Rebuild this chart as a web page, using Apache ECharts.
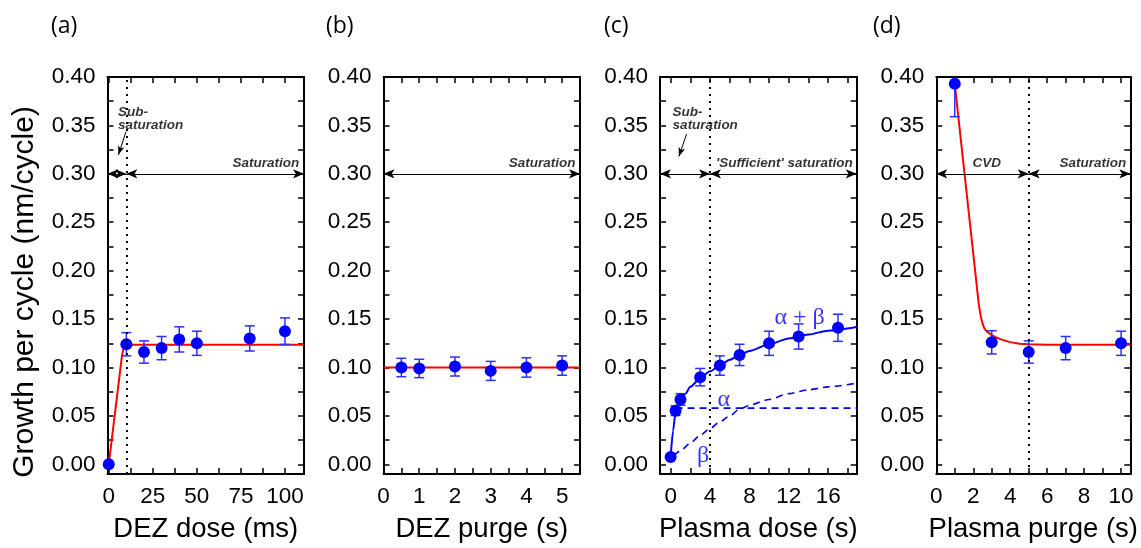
<!DOCTYPE html>
<html><head><meta charset="utf-8">
<script src="https://cdn.jsdelivr.net/npm/echarts@6/dist/echarts.min.js"></script>
<style>html,body{margin:0;padding:0;background:#fff}#c{width:1141px;height:548px}</style>
</head><body><div id="c"></div>
<script>
// ---------- DATA ----------
// shared y axis
const yTicks = [0,0.025,0.05,0.075,0.1,0.125,0.15,0.175,0.2,0.225,0.25,0.275,0.3,0.325,0.35,0.375,0.4];
const yLabels = [0,0.05,0.1,0.15,0.2,0.25,0.3,0.35,0.4];
const yTitle = 'Growth per cycle (nm/cycle)';
const panelLabels = ['(a)','(b)','(c)','(d)'];

// Panel (a) DEZ dose
const aDose = [0,10,20,30,40,50,80,100];
const aGpc  = [0.000,0.124,0.116,0.120,0.129,0.125,0.130,0.1375];
const aErr  = [0,0.012,0.0115,0.012,0.013,0.0125,0.013,0.0137];
const aFitX = [0,7.5,8.5,9.5,11,111];
const aFitY = [0,0.112,0.1205,0.123,0.1235,0.1235];
const aXTicks = [0,12.5,25,37.5,50,62.5,75,87.5,100];
const aXLabels = [0,25,50,75,100];
const aXTitle = 'DEZ dose (ms)';

// Panel (b) DEZ purge
const bPurge = [0.5,1,2,3,4,5];
const bGpc   = [0.100,0.099,0.101,0.0965,0.100,0.102];
const bErr   = [0.0095,0.0095,0.0098,0.0098,0.010,0.010];
const bFitX  = [0,5.5];
const bFitY  = [0.100,0.100];
const bXTicks = [0,0.5,1,1.5,2,2.5,3,3.5,4,4.5,5,5.5];
const bXLabels = [0,1,2,3,4,5];
const bXTitle = 'DEZ purge (s)';

// Panel (c) Plasma dose
const cDose = [0,0.5,1,3,5,7,10,13,17];
const cGpc  = [0.0075,0.0554,0.067,0.090,0.102,0.113,0.125,0.132,0.141];
const cErr  = [0,0.005,0.006,0.009,0.010,0.011,0.0125,0.013,0.014];
const cSumX = [0,0.25,0.5,0.75,1,1.5,2,3,4,5,6,7,8,10,12,14,16,19];
const cSumY = [0.007,0.035,0.054,0.062,0.067,0.073,0.080,0.089,0.096,0.102,0.108,0.113,0.117,0.124,0.130,0.134,0.138,0.142];
const cAlphaX = [0.5,19];
const cAlphaY = [0.058,0.058];
const cBetaX = [0.3,1,2,3,4,5,6,7,8,10,12,14,16,19];
const cBetaY = [0.009,0.014,0.022,0.030,0.037,0.044,0.050,0.057,0.061,0.067,0.073,0.077,0.080,0.084];
const cXTicks = [0,2,4,6,8,10,12,14,16,18];
const cXLabels = [0,4,8,12,16];
const cXTitle = 'Plasma dose (s)';

// Panel (d) Plasma purge
const dPurge = [1,3,5,7,10];
const dGpc   = [0.393,0.126,0.116,0.120,0.125];
const dErr   = [0.034,0.012,0.0115,0.012,0.0125];
const dFitX  = [1,1.5,2,2.3,2.4,2.5,2.6,2.7,2.8,3.0,3.25,3.5,4,4.5,5,6,10.5];
const dFitY  = [0.393,0.305,0.2175,0.165,0.1535,0.1455,0.1405,0.1378,0.1362,0.1333,0.131,0.129,0.1262,0.1246,0.1239,0.1236,0.1235];
const dXTicks = [0,1,2,3,4,5,6,7,8,9,10];
const dXLabels = [0,2,4,6,8,10];
const dXTitle = 'Plasma purge (s)';

// annotation texts
const txtSub = 'Sub-\nsaturation';
const txtSat = 'Saturation';
const txtSuff = "'Sufficient' saturation";
const txtCVD = 'CVD';
const txtAB = 'α + β';
const txtA = 'α';
const txtB = 'β';

// ---------- CHART ----------
const FONT = '"Liberation Sans", Arial, Helvetica, sans-serif';
const BLUE = '#0000ff';
const EBLUE = '#2e2eff';
const RED = '#ff0000';
const Y_MIN = -0.01, Y_MAX = 0.40;
const ARROW_Y = 0.30;

const zip = (xs, ys) => xs.map((x, k) => [x, ys[k]]);
const zip3 = (xs, ys, es) => xs.map((x, k) => [x, ys[k], es[k]]);

function errRender(params, api) {
  const x = api.value(0), y = api.value(1), e = api.value(2);
  if (!e) return null;
  const p1 = api.coord([x, y + e]), p2 = api.coord([x, y - e]);
  const w = 5;
  const style = { stroke: EBLUE, lineWidth: 1.5 };
  return { type: 'group', children: [
    { type: 'line', shape: { x1: p1[0], y1: p1[1], x2: p2[0], y2: p2[1] }, style },
    { type: 'line', shape: { x1: p1[0] - w, y1: p1[1], x2: p1[0] + w, y2: p1[1] }, style },
    { type: 'line', shape: { x1: p2[0] - w, y1: p2[1], x2: p2[0] + w, y2: p2[1] }, style }
  ]};
}

const panels = [
  { left: 107.5, width: 196.5, xMin: -0.7, xMax: 110.8, xTicks: aXTicks, xLabels: aXLabels, xTitle: aXTitle,
    pts: zip3(aDose, aGpc, aErr), fits: [{ d: zip(aFitX, aFitY), c: RED, smooth: false }],
    vline: 10, arrows: [[-0.7, 10], [10, 110.8]], pointer: [[9.8, 0.3436], [5.5, 0.3196]],
    texts: [
      { v: [5.0, 0.357], t: txtSub, pos: 'right' },
      { v: [89.2, 0.3114], t: txtSat, pos: 'inside' }
    ], labelX: 51 },
  { left: 383.5, width: 196.5, xMin: 0, xMax: 5.5, xTicks: bXTicks, xLabels: bXLabels, xTitle: bXTitle,
    pts: zip3(bPurge, bGpc, bErr), fits: [{ d: zip(bFitX, bFitY), c: RED, smooth: false }],
    vline: null, arrows: [[0, 5.5]], pointer: null,
    texts: [ { v: [4.44, 0.3114], t: txtSat, pos: 'inside' } ], labelX: 326 },
  { left: 660, width: 196.7, xMin: -1.08, xMax: 18.9, xTicks: cXTicks, xLabels: cXLabels, xTitle: cXTitle,
    pts: zip3(cDose, cGpc, cErr),
    fits: [
      { d: zip(cSumX, cSumY), c: BLUE, smooth: true },
      { d: zip(cAlphaX, cAlphaY), c: BLUE, smooth: false, dash: [7, 5] },
      { d: zip(cBetaX, cBetaY), c: BLUE, smooth: true, dash: [7, 5] }
    ],
    vline: 4, arrows: [[-1.08, 4], [4, 18.9]], pointer: [[1.62, 0.341], [0.84, 0.318]],
    texts: [
      { v: [0.15, 0.357], t: txtSub, pos: 'right' },
      { v: [11.55, 0.3114], t: txtSuff, pos: 'inside' },
      { v: [13.1, 0.151], t: txtAB, pos: 'inside', greek: true },
      { v: [5.4, 0.0663], t: txtA, pos: 'inside', greek: true },
      { v: [3.3, 0.0085], t: txtB, pos: 'inside', greek: true }
    ], labelX: 604 },
  { left: 936.3, width: 196.4, xMin: 0, xMax: 10.5, xTicks: dXTicks, xLabels: dXLabels, xTitle: dXTitle,
    pts: zip3(dPurge, dGpc, dErr), fits: [{ d: zip(dFitX, dFitY), c: RED, smooth: false }],
    vline: 5, arrows: [[0, 5], [5, 10.5]], pointer: null,
    texts: [
      { v: [2.73, 0.3114], t: txtCVD, pos: 'inside' },
      { v: [8.47, 0.3114], t: txtSat, pos: 'inside' }
    ], labelX: 873 }
];

const grid = [], xAxis = [], yAxis = [], series = [], graphic = [];
const TOP = 77, HEIGHT = 402;
const axLine = { show: true, onZero: false, lineStyle: { color: '#000', width: 2 } };
const tickStyle = { color: '#000', width: 1.5 };

panels.forEach((p, i) => {
  grid.push({ left: p.left, top: TOP, width: p.width, height: HEIGHT });
  xAxis.push({
    gridIndex: i, type: 'value', min: p.xMin, max: p.xMax, position: 'bottom',
    axisLine: axLine,
    axisTick: { show: true, inside: true, length: 6, customValues: p.xTicks, lineStyle: tickStyle },
    axisLabel: { customValues: p.xLabels, margin: 11, fontSize: 22.5, color: '#000', fontFamily: FONT },
    splitLine: { show: false },
    name: p.xTitle, nameLocation: 'middle', nameGap: 41,
    nameTextStyle: { fontSize: 27.5, color: '#000', fontFamily: FONT }
  });
  xAxis.push({
    gridIndex: i, type: 'value', min: p.xMin, max: p.xMax, position: 'top',
    axisLine: axLine,
    axisTick: { show: true, inside: true, length: 6, customValues: p.xTicks, lineStyle: tickStyle },
    axisLabel: { show: false }, splitLine: { show: false }
  });
  yAxis.push({
    gridIndex: i, type: 'value', min: Y_MIN, max: Y_MAX, position: 'left',
    axisLine: axLine,
    axisTick: { show: true, inside: true, length: 6, customValues: yTicks, lineStyle: tickStyle },
    axisLabel: { customValues: yLabels, margin: 12, fontSize: 22.5, color: '#000', fontFamily: FONT,
      formatter: v => Number(v).toFixed(2) },
    splitLine: { show: false }
  });
  yAxis.push({
    gridIndex: i, type: 'value', min: Y_MIN, max: Y_MAX, position: 'right',
    axisLine: axLine,
    axisTick: { show: true, inside: true, length: 6, customValues: yTicks, lineStyle: tickStyle },
    axisLabel: { show: false }, splitLine: { show: false }
  });
  const xi = 2 * i, yi = 2 * i;

  p.fits.forEach(f => {
    series.push({
      type: 'line', xAxisIndex: xi, yAxisIndex: yi, data: f.d, showSymbol: false, symbol: 'none',
      smooth: f.smooth ? 0.25 : false, smoothMonotone: 'x', clip: true, z: 2,
      lineStyle: { color: f.c, width: f.dash ? 1.6 : 2, type: f.dash || 'solid', join: 'round' }, silent: true
    });
  });
  series.push({ type: 'custom', xAxisIndex: xi, yAxisIndex: yi, data: p.pts, renderItem: errRender,
    encode: { x: 0, y: 1 }, clip: true, z: 3, silent: true });
  series.push({ type: 'scatter', xAxisIndex: xi, yAxisIndex: yi, data: p.pts.map(d => [d[0], d[1]]),
    symbol: 'circle', symbolSize: 12, itemStyle: { color: BLUE, opacity: 1 }, z: 4, silent: true, clip: false });

  const ml = [];
  if (p.vline !== null) {
    ml.push([{ coord: [p.vline, Y_MIN], symbol: 'none' },
             { coord: [p.vline, Y_MAX], symbol: 'none', lineStyle: { color: '#000', width: 2, type: [2, 5] } }]);
  }
  p.arrows.forEach(a => {
    ml.push([{ coord: [a[0], ARROW_Y], symbol: 'arrow', symbolSize: [7, 11] },
             { coord: [a[1], ARROW_Y], symbol: 'arrow', symbolSize: [7, 11] }]);
  });
  if (p.pointer) {
    ml.push([{ coord: p.pointer[0], symbol: 'none', lineStyle: { color: '#000', width: 1 } },
             { coord: p.pointer[1], symbol: 'arrow', symbolSize: [5, 9] }]);
  }
  series.push({
    type: 'line', xAxisIndex: xi, yAxisIndex: yi, data: [], silent: true, z: 5,
    markLine: { silent: true, animation: false, symbol: 'none', label: { show: false },
      lineStyle: { color: '#000', width: 1, type: 'solid' }, emphasis: { disabled: true },
      data: ml }
  });

  series.push({
    type: 'scatter', xAxisIndex: xi, yAxisIndex: yi, symbolSize: 1, silent: true, z: 6,
    itemStyle: { color: 'rgba(0,0,0,0)' },
    data: p.texts.map(t => ({
      value: t.v,
      label: t.greek ? {
        show: true, formatter: t.t, position: 'inside', fontSize: 24, color: BLUE,
        fontFamily: '"Liberation Serif", serif'
      } : {
        show: true, formatter: t.t, position: t.pos, distance: 0, fontSize: 13.5, fontStyle: 'italic',
        fontWeight: 'bold', color: '#000', fontFamily: FONT, lineHeight: 12.5, align: t.pos === 'right' ? 'left' : 'center'
      }
    }))
  });

  graphic.push({ type: 'text', x: p.labelX, y: 26, silent: true,
    style: { text: panelLabels[i], fontSize: 23, fontFamily: '"Open Sans", sans-serif', fill: '#000', textVerticalAlign: 'middle' } });
});

// y-axis title (shared, left of panel a)
graphic.push({ type: 'text', x: 24.5, y: 292, rotation: Math.PI / 2, silent: true,
  style: { text: yTitle, fontSize: 30, fontFamily: FONT, fill: '#000', textAlign: 'center', textVerticalAlign: 'middle' } });

const chart = echarts.init(document.getElementById('c'));
chart.setOption({ animation: false, backgroundColor: '#fff', grid, xAxis, yAxis, series, graphic });
</script>
</body></html>
